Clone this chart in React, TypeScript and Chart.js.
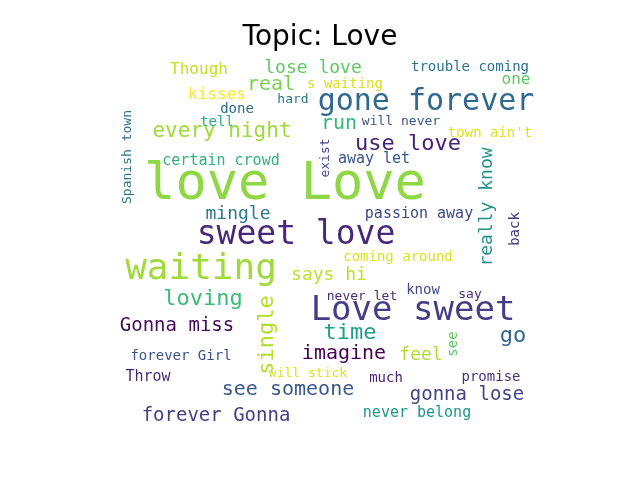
import { useEffect, useRef } from 'react'
import Chart from 'chart.js/auto'

const title = 'Topic: Love'

const words = [
  'love Love', 'sweet love', 'waiting', 'Love sweet', 'gone forever', 'lose love', 'real',
  'every night', 'run', 'use love', 'really know', 'mingle', 'passion away', 'says hi',
  'coming around', 'loving', 'single', 'Gonna miss', 'time', 'go', 'imagine', 'feel', 'see',
  'never let', 'know', 'say', 'forever Girl', 'Throw', 'will stick', 'much', 'promise',
  'see someone', 'gonna lose', 'forever Gonna', 'never belong', 'Though', 'kisses',
  's waiting', 'hard', 'trouble coming', 'one', 'done', 'tell', 'will never', "town ain't",
  'Spanish town', 'certain crowd', 'exist', 'away let', 'back',
]
const xs = [
  285, 296, 201, 413, 426, 313, 271, 222, 339, 408, 487, 238, 419, 329, 398, 203, 267, 177,
  350, 513, 344, 421, 453, 362, 423, 470, 181, 148, 308, 386, 491, 288, 467, 216, 417, 199,
  217, 345, 293, 470, 516, 237, 217, 401, 490, 128, 221, 326, 374, 515,
]
const ys = [
  185, 235, 270, 311, 102, 68, 85, 132, 124, 144, 207, 214, 214, 275, 257, 299, 335, 326,
  333, 336, 354, 355, 344, 297, 290, 295, 356, 377, 374, 378, 377, 390, 395, 416, 413, 70,
  95, 84, 100, 67, 80, 109, 122, 122, 133, 157, 161, 158, 159, 229,
]
const sizes = [
  52, 33, 36, 34, 30, 18, 20, 21, 20, 22, 18, 18, 15, 18, 14, 22, 22, 19, 22, 22, 20, 18,
  14, 13, 14, 13, 14, 15, 13, 14, 14, 20, 19, 19, 15, 16, 16, 14, 13, 14, 16, 14, 14, 13,
  14, 13, 15, 13, 15, 14,
]
const colors = [
  '#8fd744', '#482878', '#a0da39', '#433e85', '#31688e', '#5ec962', '#7ad151', '#a0da39',
  '#35b779', '#482173', '#21918c', '#2a788e', '#3e4a89', '#bddf26', '#dde318', '#3bbb75',
  '#b5de2b', '#46085c', '#1f9e89', '#31688e', '#440154', '#addc30', '#5ec962', '#472c7a',
  '#3e4a89', '#472d7b', '#3b528b', '#482878', '#dde318', '#482475', '#46337e', '#38598c',
  '#414487', '#433e85', '#1f968b', '#c2df23', '#fde725', '#d8e219', '#2a788e', '#2c728e',
  '#5ec962', '#2f6c8e', '#27ad81', '#39568c', '#dde318', '#2c728e', '#2eb37c', '#3e4989',
  '#3a548c', '#453781',
]
const vertical = [
  'really know', 'single', 'see', 'Spanish town', 'exist', 'back',
]

export default function App() {
  const chartRef = useRef<HTMLCanvasElement | null>(null)

  useEffect(() => {
    if (!chartRef.current) return
    const ctx = chartRef.current.getContext('2d')
    if (!ctx) return

    const wordPlugin = {
      id: 'words',
      afterDatasetsDraw(chart: any) {
        const c = chart.ctx
        const meta = chart.getDatasetMeta(0)
        c.save()
        c.textAlign = 'center'
        c.textBaseline = 'middle'
        c.fillStyle = '#000'
        c.font = '28px "DejaVu Sans"'
        c.fillText(title, chart.scales.x.getPixelForValue(320), chart.scales.y.getPixelForValue(38))
        meta.data.forEach((pt: any, i: number) => {
          c.save()
          c.translate(pt.x, pt.y)
          if (vertical.includes(words[i])) c.rotate(-Math.PI / 2)
          c.font = `${sizes[i]}px "DejaVu Sans Mono"`
          c.fillStyle = colors[i]
          c.fillText(words[i], 0, 0)
          c.restore()
        })
        c.restore()
      },
    }

    const chart = new Chart(ctx, {
      type: 'scatter',
      data: {
        datasets: [
          {
            data: xs.map((x, i) => ({ x, y: ys[i] })),
            pointRadius: 0,
          },
        ],
      },
      options: {
        responsive: false,
        animation: false,
        layout: { padding: 0 },
        plugins: { legend: { display: false }, tooltip: { enabled: false } },
        scales: {
          x: { min: 0, max: 640, display: false },
          y: { min: 0, max: 480, reverse: true, display: false },
        },
      },
      plugins: [wordPlugin],
    })

    return () => {
      chart.destroy()
    }
  }, [])

  return (
    <div style={{ position: 'absolute', left: 0, top: 0, background: '#fff' }}>
      <canvas ref={chartRef} width={640} height={480} />
    </div>
  )
}
